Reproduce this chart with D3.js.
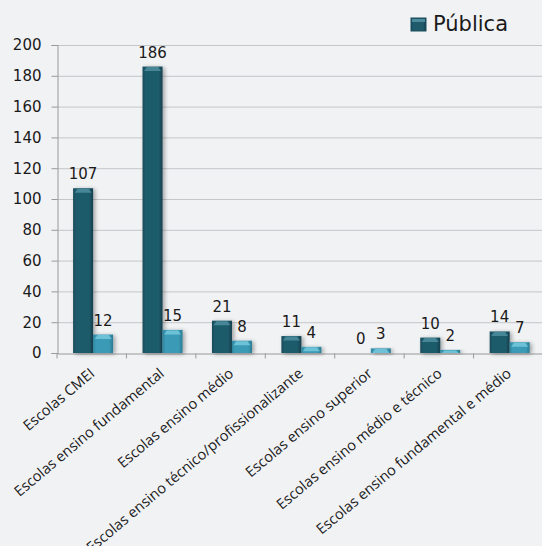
<!DOCTYPE html>
<html><head><meta charset="utf-8">
<script src="https://cdn.jsdelivr.net/npm/d3@7"></script>
<style>
html,body{margin:0;padding:0;background:#f1f2f4;}
svg{display:block;}
</style></head>
<body>
<script>
const categories = ["Escolas CMEI","Escolas ensino fundamental","Escolas ensino médio","Escolas ensino técnico/profissionalizante","Escolas ensino superior","Escolas ensino médio e técnico","Escolas ensino fundamental e médio"];
const seriesNames = ["Pública","Privada"];
const publica = [107,186,21,11,0,10,14];
const privada = [12,15,8,4,3,2,7];
const yTicks = [0,20,40,60,80,100,120,140,160,180,200];

(function(){
const W=542,H=546;
const svg=d3.select("body").append("svg").attr("width",W).attr("height",H);
svg.append("rect").attr("width",W).attr("height",H).attr("fill","#f1f2f4");

const mLeft=57,mRight=543,mTop=45,mBottom=353;
const y=d3.scaleLinear().domain([0,200]).range([mBottom,mTop]);
const x=d3.scaleBand().domain(categories).range([mLeft,mRight]).padding(0);
const bw=x.bandwidth();
const x1=d3.scaleBand().domain(seriesNames).range([bw*0.232,bw*0.808]).padding(0);

const defs=svg.append("defs");
function grad(id,c0,c1,c2){
  const g=defs.append("linearGradient").attr("id",id).attr("x1","0").attr("x2","1").attr("y1","0").attr("y2","0");
  g.append("stop").attr("offset","0").attr("stop-color",c0);
  g.append("stop").attr("offset","0.15").attr("stop-color",c1);
  g.append("stop").attr("offset","0.8").attr("stop-color",c1);
  g.append("stop").attr("offset","1").attr("stop-color",c2);
}
grad("gd","#18495a","#1f5b6b","#153f4d");
grad("gl","#2d849d","#3b9bb6","#2a7b93");
const f=defs.append("filter").attr("id","sh").attr("x","-50%").attr("y","-50%").attr("width","200%").attr("height","200%");
f.append("feGaussianBlur").attr("in","SourceAlpha").attr("stdDeviation",2.2);
f.append("feOffset").attr("dx",2).attr("dy",1).attr("result","b");
f.append("feComponentTransfer").append("feFuncA").attr("type","linear").attr("slope",0.35);
const m=f.append("feMerge");m.append("feMergeNode");m.append("feMergeNode").attr("in","SourceGraphic");

svg.append("g").selectAll("line").data(yTicks.filter(d=>d>0)).join("line")
  .attr("x1",mLeft).attr("x2",W).attr("y1",d=>y(d)+0.5).attr("y2",d=>y(d)+0.5)
  .attr("stroke","#c4c6c8").attr("stroke-width",1);

const ya=svg.append("g").attr("transform",`translate(${mLeft+0.5},0)`).call(d3.axisLeft(y).tickValues(yTicks).tickSize(6).tickPadding(10));
ya.select(".domain").attr("stroke","#9a9a9a");
ya.selectAll(".tick line").attr("stroke","#9a9a9a");
ya.selectAll("text").attr("font-family","DejaVu Sans").attr("font-size","15px").attr("fill","#1a1a1a");

const xa=svg.append("g").attr("transform",`translate(0,${mBottom+0.5})`).call(d3.axisBottom(x).tickSize(0).tickFormat(""));
xa.select(".domain").attr("stroke","#9a9a9a");
xa.selectAll(".xt").data(d3.range(categories.length+1)).join("line").attr("class","xt")
  .attr("x1",i=>mLeft+i*bw).attr("x2",i=>mLeft+i*bw).attr("y1",0).attr("y2",5).attr("stroke","#9a9a9a");

svg.append("g").selectAll("text").data(categories).join("text")
  .attr("transform",d=>`translate(${x(d)+bw/2+4},${mBottom+22}) rotate(-40)`)
  .attr("text-anchor","end")
  .attr("font-family","Open Sans").attr("font-size","14.6px").attr("fill","#1a1a1a")
  .text(d=>d);

const rows=categories.map((c,i)=>({c,vals:[{s:"Pública",v:publica[i]},{s:"Privada",v:privada[i]}]}));
const grp=svg.append("g").selectAll("g").data(rows).join("g").attr("transform",d=>`translate(${x(d.c)},0)`);
const bars=grp.selectAll("g.b").data(d=>d.vals).join("g").attr("class","b");
bars.filter(d=>d.v>0).append("rect")
  .attr("x",d=>x1(d.s)).attr("width",x1.bandwidth()).attr("y",d=>y(d.v)).attr("height",d=>mBottom-y(d.v))
  .attr("fill",d=>d.s==="Pública"?"url(#gd)":"url(#gl)").attr("filter","url(#sh)");
bars.filter(d=>d.v>0).append("path")
  .attr("d",d=>{const x0=x1(d.s)+1.5,w=x1.bandwidth()-3,t=y(d.v)+0.5,h=Math.min(4,(mBottom-y(d.v))-0.5);
     return `M${x0},${t+h}L${x0+3},${t}L${x0+w-3},${t}L${x0+w},${t+h}Z`;})
  .attr("fill",d=>d.s==="Pública"?"#4b8b9b":"#74c6da").attr("opacity",0.9);

bars.append("text")
  .attr("x",d=>x1(d.s)+x1.bandwidth()/2).attr("y",d=>y(d.v)-9)
  .attr("text-anchor","middle").attr("font-family","DejaVu Sans").attr("font-size","15px").attr("fill","#1a1a1a")
  .text(d=>d.v);

const lg=svg.append("g").attr("transform","translate(411,18)");
lg.append("rect").attr("width",15).attr("height",13).attr("fill","url(#gd)").attr("stroke","#1c4f5e");
lg.append("rect").attr("x",1).attr("y",1).attr("width",13).attr("height",3).attr("fill","#4b8b9b");
lg.append("text").attr("x",22).attr("y",13).attr("font-family","DejaVu Sans").attr("font-size","21px").attr("fill","#1a1a1a").text(seriesNames[0]);
})();
</script>
</body></html>
